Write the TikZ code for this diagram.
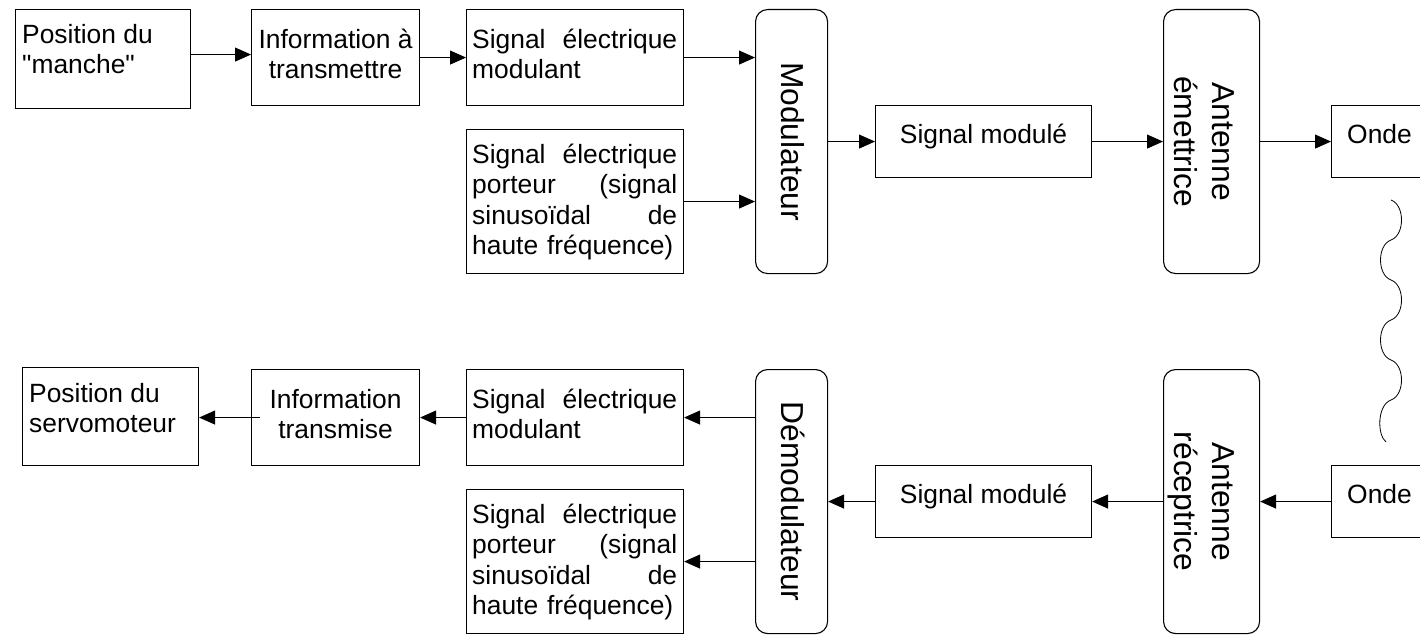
\documentclass[tikz,border=0pt]{standalone}
\usepackage{fontspec}
\setmainfont{Liberation Sans}
\usetikzlibrary{arrows.meta,calc}
\begin{document}
\begin{tikzpicture}[x=1pt,y=-1pt,
  box/.style={draw, line width=1.1pt, inner sep=0pt, anchor=north west},
  rbox/.style={box, rounded corners=12pt},
  txt/.style={inner sep=0pt, font=\fontsize{26.4}{30.5}\selectfont},
  vtxt/.style={inner sep=0pt, rotate=-90, anchor=north, align=center, font=\fontsize{31.8}{38}\selectfont},
  arr/.style={line width=1pt, -{Triangle[length=16pt,width=14pt]}},
  wave/.style={line width=0.8pt}]
\clip (0,0) rectangle (1420,634);
% ---------- top chain ----------
\node[box, minimum width=175pt, minimum height=99pt] (pos1) at (15,9) {};
\node[txt, anchor=north west, align=left] (tpos1) at ($(pos1.north west)+(7,12.6)$) {\strut Position du\\\textquotedbl manche\textquotedbl};
\node[box, minimum width=168pt, minimum height=96pt] (inf1) at (251,9) {};
\node[txt, anchor=north, align=center] (tinf1) at ($(inf1.north)+(0,17.6)$) {\strut Information à\\transmettre};
\node[box, minimum width=217pt, minimum height=96pt] (mod1) at (466,9) {};
\node[txt, anchor=north west, text width=205pt, align=left] (tmod1) at ($(mod1.north west)+(6,17.6)$) {\strut Signal\hfill électrique\\modulant};
\node[box, minimum width=217pt, minimum height=144pt] (por1) at (466,129) {};
\node[txt, anchor=north west, text width=205pt, align=left] (tpor1) at ($(por1.north west)+(6,12.6)$) {\strut Signal\hfill électrique\\porteur\hfill(signal\\sinusoïdal\hfill de\\haute fréquence)};
\node[rbox, minimum width=72pt, minimum height=264pt] (modu) at (755,9) {};
\node[vtxt] (tmodu) at (modu.center -| 808.6,0) {\strut Modulateur};
\node[box, minimum width=216pt, minimum height=72pt] (sm1) at (875,105) {};
\node[txt, anchor=north, align=center] (tsm1) at ($(sm1.north)+(0,16.6)$) {\strut Signal modulé};
\node[rbox, minimum width=96pt, minimum height=264pt] (ant1) at (1163,9) {};
\node[vtxt] (tant1) at (ant1.center -| 1239.6,0) {\strut Antenne\\émettrice};
\node[box, minimum width=94pt, minimum height=72pt] (onde1) at (1331,105) {};
\node[txt, anchor=north west, align=left] (tonde1) at ($(onde1.north west)+(16,16.6)$) {\strut Onde};
% ---------- bottom chain ----------
\node[box, minimum width=176pt, minimum height=98pt] (pos2) at (22,367) {};
\node[txt, anchor=north west, align=left] (tpos2) at ($(pos2.north west)+(7,13.6)$) {\strut Position du\\servomoteur};
\node[box, minimum width=168pt, minimum height=96pt] (inf2) at (251,369) {};
\node[txt, anchor=north, align=center] (tinf2) at ($(inf2.north)+(0,17.6)$) {\strut Information\\transmise};
\node[box, minimum width=217pt, minimum height=96pt] (mod2) at (466,369) {};
\node[txt, anchor=north west, text width=205pt, align=left] (tmod2) at ($(mod2.north west)+(6,17.6)$) {\strut Signal\hfill électrique\\modulant};
\node[box, minimum width=217pt, minimum height=144pt] (por2) at (466,489) {};
\node[txt, anchor=north west, text width=205pt, align=left] (tpor2) at ($(por2.north west)+(6,12.6)$) {\strut Signal\hfill électrique\\porteur\hfill(signal\\sinusoïdal\hfill de\\haute fréquence)};
\node[rbox, minimum width=72pt, minimum height=264pt] (demod) at (755,369) {};
\node[vtxt] (tdemod) at (demod.center -| 808.6,0) {\strut Démodulateur};
\node[box, minimum width=216pt, minimum height=72pt] (sm2) at (875,465) {};
\node[txt, anchor=north, align=center] (tsm2) at ($(sm2.north)+(0,16.6)$) {\strut Signal modulé};
\node[rbox, minimum width=96pt, minimum height=264pt] (ant2) at (1163,369) {};
\node[vtxt] (tant2) at (ant2.center -| 1239.6,0) {\strut Antenne\\réceptrice};
\node[box, minimum width=94pt, minimum height=72pt] (onde2) at (1331,465) {};
\node[txt, anchor=north west, align=left] (tonde2) at ($(onde2.north west)+(16,16.6)$) {\strut Onde};
% ---------- connectors top ----------
\draw[arr] ([yshift=4.5pt]pos1.east) -- ([yshift=4.5pt]pos1.east -| inf1.west);
\draw[arr] (inf1.east) -- (inf1.east -| mod1.west);
\draw[arr] (mod1.east) -- (mod1.east -| modu.west);
\draw[arr] (por1.east) -- (por1.east -| modu.west);
\draw[arr] (sm1.west -| modu.east) -- (sm1.west);
\draw[arr] (sm1.east) -- (sm1.east -| ant1.west);
\draw[arr] (onde1.west -| ant1.east) -- (onde1.west);
% ---------- connectors bottom ----------
\draw[arr, shorten <=-9pt] (inf2.west) -- (inf2.west -| pos2.east);
\draw[arr] (mod2.west) -- (mod2.west -| inf2.east);
\draw[arr] (mod2.east -| demod.west) -- (mod2.east);
\draw[arr] (por2.east -| demod.west) -- (por2.east);
\draw[arr] (sm2.west) -- (sm2.west -| demod.east);
\draw[arr] (sm2.east -| ant2.west) -- (sm2.east);
\draw[arr] (onde2.west) -- (onde2.west -| ant2.east);
% ---------- wave ----------
\draw[wave] (1391,200)
  .. controls (1405,205) and (1405,235) .. (1391,240)
  .. controls (1377,245) and (1377,275) .. (1391,280)
  .. controls (1405,285) and (1405,315) .. (1391,320)
  .. controls (1377,325) and (1377,355) .. (1391,360)
  .. controls (1405,365) and (1405,395) .. (1391,400)
  .. controls (1377,405) and (1377,435) .. (1386,442);
\end{tikzpicture}
\end{document}
